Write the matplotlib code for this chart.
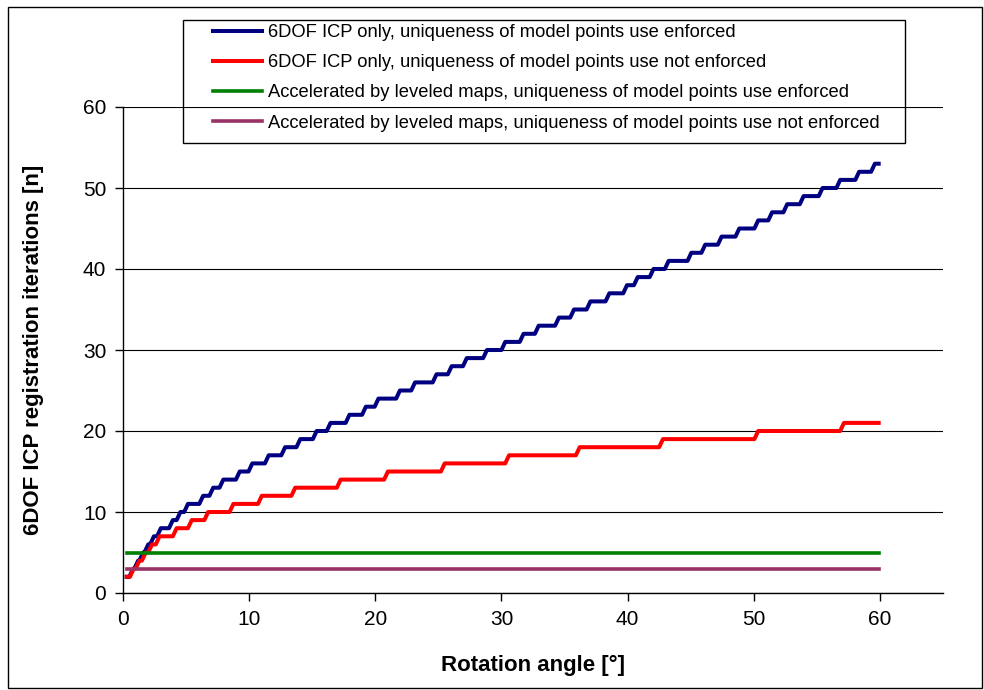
import matplotlib.pyplot as plt
from matplotlib.patches import Rectangle

plt.rcParams['font.family'] = ['Liberation Sans', 'DejaVu Sans']

# angle (deg) at which each iteration count is first reached
blue_levels = list(range(2, 54))
blue_start = [0.3, 0.8, 1.2, 1.6, 2.0, 2.45, 3.0, 3.95, 4.55, 5.15, 6.35, 7.15,
              7.95, 9.25, 10.25, 11.55, 12.85, 14.05, 15.35, 16.45, 17.95, 19.25,
              20.25, 21.95, 23.15, 24.85, 26.05, 27.25, 28.85, 30.3, 31.75, 32.95,
              34.55, 35.75, 37.05, 38.55, 39.95, 40.8, 42.05, 43.25, 45.05, 46.15,
              47.45, 48.85, 50.35, 51.45, 52.65, 53.95, 55.45, 56.85, 58.35, 59.6]
red_levels = list(range(2, 22))
red_start = [0.3, 0.85, 1.3, 1.8, 2.3, 2.9, 4.25, 5.45, 6.75, 8.75, 11.0, 13.65,
             17.25, 21.0, 25.5, 30.6, 36.2, 42.8, 50.35, 57.15]
angle_end = 59.9

green_angle = [0.3, 59.9]
green_iter = [5, 5]
purple_angle = [0.3, 59.9]
purple_iter = [3, 3]

labels = ["6DOF ICP only, uniqueness of model points use enforced",
          "6DOF ICP only, uniqueness of model points use not enforced",
          "Accelerated by leveled maps, uniqueness of model points use enforced",
          "Accelerated by leveled maps, uniqueness of model points use not enforced"]


def stairs(starts, levels, end, riser=0.3):
    xs, ys = [starts[0]], [levels[0]]
    for i in range(1, len(starts)):
        xs += [starts[i] - riser, starts[i]]
        ys += [levels[i - 1], levels[i]]
    xs.append(end)
    ys.append(levels[-1])
    return xs, ys


W, H = 984, 690
fig = plt.figure(figsize=(W / 100, H / 100), dpi=100)
ax = fig.add_axes([123 / W, 1 - 593 / H, 820 / W, 486 / H])

bx, by = stairs(blue_start, blue_levels, angle_end)
rx, ry = stairs(red_start, red_levels, angle_end)
ax.plot(bx, by, color='#000080', lw=2.9, solid_joinstyle='round', label=labels[0])
ax.plot(rx, ry, color='#ff0000', lw=2.9, solid_joinstyle='round', label=labels[1])
ax.plot(green_angle, green_iter, color='#008000', lw=2.6, label=labels[2])
ax.plot(purple_angle, purple_iter, color='#993366', lw=2.6, label=labels[3])

ax.set_xlim(0, 65)
ax.set_ylim(0, 60)
ax.set_xticks(range(0, 61, 10))
ax.set_yticks(range(0, 61, 10))
ax.yaxis.grid(True, color='black', lw=0.8)
ax.set_axisbelow(True)
for s in ['top', 'right']:
    ax.spines[s].set_visible(False)
for s in ['left', 'bottom']:
    ax.spines[s].set_color('black')
    ax.spines[s].set_linewidth(1)
ax.tick_params(direction='out', length=6, width=1, labelsize=15, pad=6)

ax.set_xlabel('Rotation angle [°]', fontsize=16, fontweight='bold', labelpad=19)
ax.set_ylabel('6DOF ICP registration iterations [n]', fontsize=16,
              fontweight='bold', labelpad=28)

# legend entries without frame, box drawn separately (Excel-like padding)
leg = fig.legend(loc='upper left', bbox_to_anchor=(213 / W, 1 - 24 / H), fontsize=13.2,
                 frameon=False, handlelength=2.68, handletextpad=0.33,
                 labelspacing=0.72, borderpad=0, borderaxespad=0)
fig.patches.append(Rectangle((183 / W, 1 - 143 / H), 722 / W, 123 / H,
                             transform=fig.transFigure, fill=False,
                             edgecolor='black', lw=1))

# outer chart border
fig.patches.append(Rectangle((8 / W, 2 / H), 974 / W, 681 / H,
                             transform=fig.transFigure, fill=False,
                             edgecolor='black', lw=1))

fig.savefig('out.png', dpi=100)
